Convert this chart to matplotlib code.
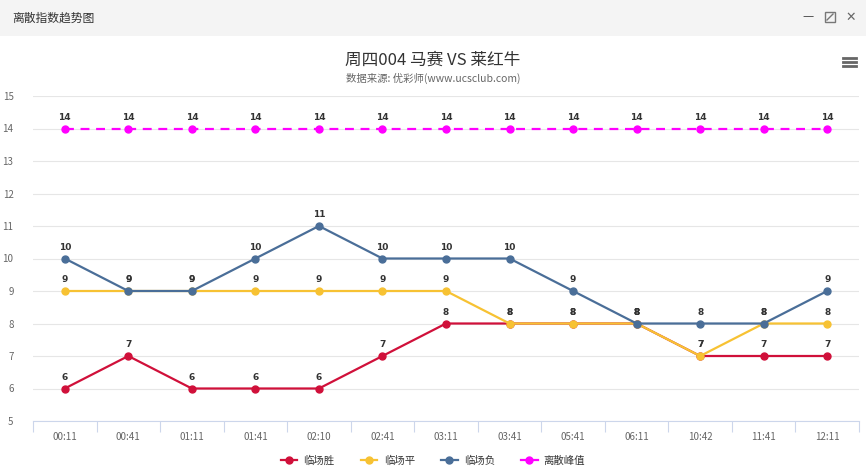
import numpy as np
import matplotlib
matplotlib.use("Agg")
import matplotlib.pyplot as plt
from matplotlib.patches import Rectangle
from matplotlib.lines import Line2D

plt.rcParams['font.family'] = ['Noto Sans CJK SC', 'DejaVu Sans']

# Data
times = ['00:11', '00:41', '01:11', '01:41', '02:10', '02:41', '03:11',
         '03:41', '05:41', '06:11', '10:42', '11:41', '12:11']
win = [6, 7, 6, 6, 6, 7, 8, 8, 8, 8, 7, 7, 7]
draw = [9, 9, 9, 9, 9, 9, 9, 8, 8, 8, 7, 8, 8]
lose = [10, 9, 9, 10, 11, 10, 10, 10, 9, 8, 8, 8, 9]
peak = [14, 14, 14, 14, 14, 14, 14, 14, 14, 14, 14, 14, 14]
series_names = ['临场胜', '临场平', '临场负', '离散峰值']
colors = ['#d0103a', '#f7c233', '#4a6e98', '#ff00ff']

fig = plt.figure(figsize=(8.66, 4.76), dpi=100)

# header bar
fig.patches.append(Rectangle((0, 1 - 36 / 476), 1, 36 / 476, transform=fig.transFigure,
                             facecolor='#f4f4f4', edgecolor='none', zorder=0))
fig.text(12 / 866, 1 - 18 / 476, '离散指数趋势图', fontsize=8.5, color='#333333', va='center')
# window controls
fig.text(808 / 866, 1 - 17 / 476, '—', fontsize=9, color='#555555', va='center', ha='center')
# maximise icon drawn as a small square with a corner mark
fig.patches.append(Rectangle((825 / 866, 1 - 22 / 476), 10 / 866, 10 / 476,
                             transform=fig.transFigure, facecolor='none',
                             edgecolor='#777777', lw=1))
fig.add_artist(Line2D([827 / 866, 833 / 866], [1 - 20 / 476, 1 - 14 / 476],
                      color='#777777', lw=1, transform=fig.transFigure))
fig.text(851 / 866, 1 - 17 / 476, '✕', fontsize=9, color='#666666', va='center', ha='center',
         family='DejaVu Sans')
# menu icon
for yy in (58, 62, 66):
    fig.add_artist(Line2D([843 / 866, 856 / 866], [1 - yy / 476] * 2, color='#666666', lw=2,
                          transform=fig.transFigure))

fig.text(0.5, 1 - 60 / 476, '周四004 马赛 VS 莱红牛', fontsize=12, color='#333333',
         ha='center', va='center')
fig.text(0.5, 1 - 78 / 476, '数据来源: 优彩师(www.ucsclub.com)', fontsize=7.5, color='#666666',
         ha='center', va='center')

ax = fig.add_axes([33 / 866, 1 - 421 / 476, 826 / 866, 325 / 476])
x = np.arange(len(times))

for vals, c, name in zip([win, draw, lose, peak], colors, series_names):
    ls = '--' if name == '离散峰值' else '-'
    ax.plot(x, vals, color=c, lw=1.6, ls=ls, marker='o', markersize=5,
            label=name, zorder=3, dashes=(4, 3) if ls == '--' else (None, None))
    for xi, v in zip(x, vals):
        ax.annotate(str(v), (xi, v), xytext=(0, 5), textcoords='offset points',
                    ha='center', va='bottom', fontsize=6.5, fontweight='bold',
                    color='#333333', family='DejaVu Sans', zorder=4)

ax.set_xlim(-0.5, len(times) - 0.5)
ax.set_ylim(5, 15)
ax.set_yticks(range(5, 16))
ax.set_xticks(x)
ax.set_xticklabels(times)
ax.grid(axis='y', color='#e6e6e6', lw=0.8)
ax.set_axisbelow(True)
for s in ['top', 'right', 'left']:
    ax.spines[s].set_visible(False)
ax.spines['bottom'].set_color('#ccd6eb')
ax.tick_params(axis='y', length=0, labelsize=7, colors='#666666', pad=14)
ax.tick_params(axis='x', length=0, labelsize=7, colors='#666666', pad=8)
# boundary tick marks
ax.set_xticks(np.arange(-0.5, len(times), 1), minor=True)
ax.tick_params(axis='x', which='minor', length=8, color='#ccd6eb', width=0.8)

leg = fig.legend(loc='center', bbox_to_anchor=(0.5, 1 - 461 / 476), ncol=4, frameon=False,
                 fontsize=7.5, handlelength=1.6, columnspacing=2.5, handletextpad=0.6)
for h in leg.legend_handles:
    h.set_linestyle('-')
for t in leg.get_texts():
    t.set_color('#333333')

fig.savefig('out.png', dpi=100, facecolor='white')
